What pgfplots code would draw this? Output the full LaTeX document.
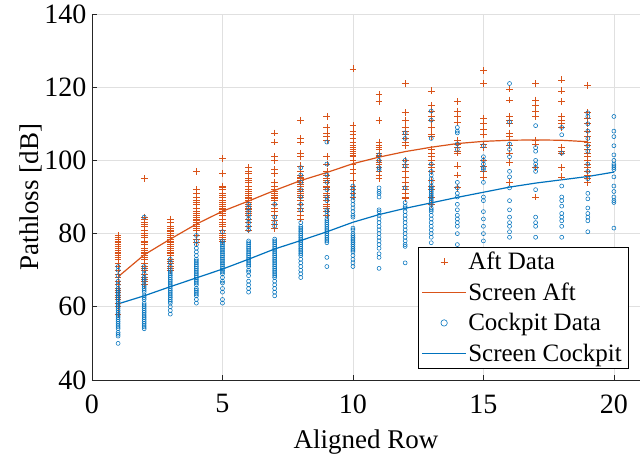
\documentclass[border=0pt]{standalone}
\usepackage{fontspec}
\setmainfont{Liberation Serif}
\usepackage{pgfplots}
\pgfplotsset{compat=1.18}
\definecolor{aftc}{RGB}{217,83,25}
\definecolor{ckc}{RGB}{0,114,189}
\definecolor{axgray}{RGB}{38,38,38}
\begin{document}
\begin{tikzpicture}
\begin{axis}[
  scale only axis, width=548pt, height=366pt,
  xmin=0, xmax=21, ymin=40, ymax=140,
  xtick={0,5,...,20}, ytick={40,60,...,140},
  axis lines=left, axis line style={-, draw=axgray, line width=0.8pt},
  grid=major, grid style={black!12, line width=0.6pt},
  tick align=inside, major tick length=5pt, tick style={draw=axgray, line width=0.8pt},
  /pgf/number format/assume math mode=true,
  tick label style={font=\fontsize{28}{32}\selectfont},
  xticklabel style={yshift=-11pt},
  yticklabel style={xshift=-2pt},
  xlabel={Aligned Row}, ylabel={Pathloss [dB]},
  xlabel style={font=\fontsize{27}{31}\selectfont, at={(axis description cs:0.5,0)}, anchor=center, yshift=-62pt},
  ylabel style={font=\fontsize{27}{31}\selectfont, at={(axis description cs:0,0.5)}, anchor=center, yshift=61pt},
  legend style={at={(0.978,0.033)}, anchor=south east,
    font=\fontsize{25}{29}\selectfont, inner xsep=4pt, inner ysep=3pt, row sep=7.5pt},
  legend cell align=left,
]
% Aft data
\addplot[only marks, mark=+, mark size=3.4pt, draw=aftc, color=aftc, mark options={draw=aftc, line width=0.7pt},
  legend image code/.code={\draw[draw=aftc, line width=0.7pt, only marks, mark=+, mark size=3.4pt, mark options={draw=aftc}] plot coordinates {(0.78cm,0cm)};}] coordinates {
(1,79.5)(1,79)(1,78.5)(1,78)(1,77.5)(1,77)(1,76.5)(1,76)(1,75.5)(1,75)(1,74.5)(1,74)(1,73.5)(1,73)(1,72)(1,71)(1,70)(1,69)(1,68)(1,67)(1,66)(1,65)(1,64.5)(1,64)(1,63)(1,62.5)(1,62)(1,61)(1,60)(1,58)
(2,95)(2,84.5)(2,84)(2,83)(2,82.5)(2,82)(2,81)(2,80)(2,79.5)(2,79)(2,78)(2,77.5)(2,77)(2,76)(2,75.5)(2,75)(2,74.5)(2,74)(2,73.5)(2,73)(2,72)(2,71)(2,70.5)(2,70)(2,69)(2,68)(2,67.5)(2,67)(2,66)
(3,84)(3,83)(3,82)(3,81.5)(3,81)(3,80.5)(3,80)(3,79.5)(3,79)(3,78.5)(3,78)(3,77.5)(3,77)(3,76.5)(3,76)(3,75.5)(3,75)(3,74.5)(3,74)(3,73)(3,72.5)(3,72)(3,71)(3,70.5)(3,70)
(4,97)(4,92)(4,91)(4,90)(4,89)(4,88.5)(4,88)(4,87)(4,86)(4,85.5)(4,85)(4,84.5)(4,84)(4,83.5)(4,83)(4,82.5)(4,82)(4,81.5)(4,81)(4,79.5)(4,78.5)(4,77.5)
(5,100.5)(5,96.5)(5,93)(5,92.5)(5,92)(5,91)(5,90.5)(5,90)(5,89)(5,88.5)(5,88)(5,87.5)(5,87)(5,86.5)(5,86)(5,85.5)(5,85)(5,84)(5,83)(5,82.5)(5,82)(5,81)(5,80)(5,79.5)(5,79)(5,78.5)(5,78)
(6,98)(6,97)(6,96.5)(6,95)(6,94.5)(6,94)(6,93)(6,92)(6,91.5)(6,91)(6,90.5)(6,90)(6,89.5)(6,89)(6,88.5)(6,88)(6,87.5)(6,87)(6,86.5)(6,86)(6,85.5)(6,85)(6,84)(6,83)(6,82)(6,81)
(7,107.5)(7,105)(7,101)(7,100)(7,97.5)(7,96.5)(7,94)(7,93)(7,92)(7,91.5)(7,91)(7,90.5)(7,90)(7,89.5)(7,89)(7,88)(7,87)(7,86)(7,85)(7,83.5)(7,82.5)(7,81.5)
(8,111)(8,106)(8,105)(8,102)(8,101)(8,98.5)(8,97)(8,96)(8,95.5)(8,95)(8,94.5)(8,94)(8,93.5)(8,93)(8,92)(8,91.5)(8,91)(8,90.5)(8,90)(8,89)(8,88)(8,87)(8,86)(8,85)(8,84)
(9,112)(9,109)(9,107.5)(9,106.5)(9,105.5)(9,101)(9,99)(9,97)(9,96)(9,95)(9,94.5)(9,94)(9,93)(9,92.5)(9,92)(9,91)(9,90.5)(9,90)(9,89)(9,88)(9,87.5)(9,87)(9,86)(9,85)
(10,125)(10,109.5)(10,108)(10,107)(10,106)(10,105)(10,104)(10,103.5)(10,103)(10,102.5)(10,102)(10,101.5)(10,101)(10,100)(10,99)(10,97.5)(10,96.5)(10,94.5)(10,93)(10,92)(10,91)(10,90)
(11,118)(11,116)(11,111)(11,105)(11,104)(11,103.5)(11,103)(11,102)(11,101.5)(11,101)(11,100)(11,99.5)(11,99)(11,98)(11,97)(11,96)(11,95)
(12,121)(12,113)(12,111)(12,109)(12,108)(12,107)(12,106)(12,105)(12,104)(12,100)(12,99)(12,98)(12,97)(12,95.5)(12,94)(12,93)(12,92)(12,91)(12,90)(12,89.5)
(13,119)(13,115)(13,113.5)(13,112)(13,111)(13,109)(13,107)(13,106.5)(13,103)(13,102)(13,101)(13,100)(13,99)(13,98)(13,97)(13,94.5)(13,93)(13,92)(13,90)(13,88)
(14,116)(14,113.5)(14,112)(14,110.5)(14,105.5)(14,104.5)(14,103.5)(14,102.5)(14,102)(14,98.5)(14,96)(14,92.5)
(15,124.5)(15,121)(15,111.5)(15,110)(15,108.5)(15,107)(15,104.5)(15,103.5)(15,100)(15,98.5)(15,97)(15,95.5)
(16,119.5)(16,116.5)(16,112)(16,111)(16,110)(16,107.5)(16,106.5)(16,104)(16,102)(16,99.5)(16,94)
(17,121)(17,116.5)(17,115)(17,113.5)(17,112)(17,105.5)(17,104.5)(17,98)(17,90)
(18,122)(18,119)(18,116)(18,112)(18,111)(18,110)(18,109)(18,103.5)(18,102.5)(18,102)(18,98)(18,95.5)
(19,120.5)(19,113)(19,111.5)(19,110)(19,108)(19,106.5)(19,105)(19,104)(19,103)(19,102)(19,101)(19,100)(19,99)(19,98)(19,97)(19,96)(19,95)(19,94)
};
\addlegendentry{Aft Data}
% Aft fit
\addplot[draw=aftc, color=aftc, line width=1.2pt,
  legend image code/.code={\fill[fill=aftc, draw=none] (0cm,-0.6pt) rectangle (1.56cm,0.6pt);}] coordinates {
(1,68.2)(2,74.2)(3,78.5)(4,82.6)(5,86.1)(6,88.9)(7,91.8)(8,94.5)(9,96.7)(10,99.1)
(11,100.9)(12,102.4)(13,103.6)(14,104.6)(15,105.2)(16,105.5)(17,105.6)(18,105.5)(19,105.1)
};
\addlegendentry{Screen Aft}
% Cockpit data
\addplot[only marks, mark=o, mark size=2pt, draw=ckc, color=ckc, mark options={draw=ckc, line width=0.55pt},
  legend image code/.code={\draw[draw=ckc, line width=0.6pt, only marks, mark=o, mark size=3.2pt, mark options={draw=ckc}] plot coordinates {(0.78cm,0cm)};}] coordinates {
(1,71)(1,70)(1,68.5)(1,67)(1,66)(1,65)(1,64.5)(1,64)(1,63.5)(1,63)(1,62.5)(1,62)(1,61.5)(1,61)(1,60.5)(1,60)(1,59.5)(1,59)(1,58.5)(1,58)(1,57.5)(1,57)(1,56.5)(1,56)(1,55.5)(1,55)(1,54.5)(1,54)(1,53)(1,52.5)(1,52)(1,50)
(2,84.5)(2,71)(2,70)(2,69)(2,68)(2,67.5)(2,67)(2,66)(2,65.5)(2,65)(2,64.5)(2,64)(2,63)(2,62.5)(2,62)(2,61)(2,60.5)(2,60)(2,59.5)(2,59)(2,58.5)(2,58)(2,57.5)(2,57)(2,56.5)(2,56)(2,55.5)(2,55)(2,54.5)(2,54)
(3,73)(3,72)(3,71)(3,70)(3,69.5)(3,69)(3,68.5)(3,68)(3,67.5)(3,67)(3,66.5)(3,66)(3,65.5)(3,65)(3,64.5)(3,64)(3,63.5)(3,63)(3,62.5)(3,62)(3,61.5)(3,61)(3,60)(3,59)(3,58)
(4,79.5)(4,78)(4,77)(4,76)(4,75)(4,74)(4,73)(4,72.5)(4,72)(4,71.5)(4,71)(4,70.5)(4,70)(4,69.5)(4,69)(4,68.5)(4,68)(4,67.5)(4,67)(4,66.5)(4,66)(4,65)(4,64.5)(4,64)(4,63.5)(4,63)(4,62)(4,61)
(5,80.5)(5,78)(5,77.5)(5,77)(5,76.5)(5,76)(5,75.5)(5,75)(5,74.5)(5,74)(5,73.5)(5,73)(5,72.5)(5,72)(5,71.5)(5,71)(5,70.5)(5,70)(5,69.5)(5,69)(5,68)(5,67)(5,66.5)(5,65)(5,64)(5,62)(5,61)
(6,88)(6,87)(6,86)(6,85)(6,84)(6,83)(6,82)(6,81)(6,78)(6,77.5)(6,77)(6,76.5)(6,76)(6,75.5)(6,75)(6,74.5)(6,74)(6,73.5)(6,73)(6,72.5)(6,72)(6,71.5)(6,71)(6,70)(6,69.5)(6,68.5)(6,67)(6,66)(6,65)(6,64)
(7,88)(7,84.5)(7,83)(7,82)(7,78.5)(7,78)(7,77.5)(7,77)(7,76.5)(7,76)(7,75.5)(7,75)(7,74.5)(7,74)(7,73.5)(7,73)(7,72.5)(7,72)(7,71.5)(7,71)(7,70.5)(7,70)(7,69.5)(7,69)(7,68.5)(7,68)(7,67)(7,66)(7,65)(7,64)(7,63)
(8,98)(8,96)(8,94)(8,92)(8,90)(8,88)(8,86.5)(8,83)(8,82)(8,81.5)(8,81)(8,80.5)(8,80)(8,79.5)(8,79)(8,78.5)(8,78)(8,77.5)(8,77)(8,76.5)(8,76)(8,75.5)(8,75)(8,74.5)(8,74)(8,73)(8,72)(8,71)(8,70)(8,69)(8,68)
(9,105)(9,99)(9,96)(9,94)(9,92)(9,90)(9,89)(9,86.5)(9,86)(9,85)(9,84)(9,83.5)(9,83)(9,82.5)(9,82)(9,81.5)(9,81)(9,80.5)(9,80)(9,79.5)(9,79)(9,78.5)(9,78)(9,77.5)(9,73.5)(9,71)
(10,93)(10,92)(10,91)(10,90)(10,89)(10,88)(10,87)(10,86)(10,85)(10,84.5)(10,81.5)(10,81)(10,80)(10,79.5)(10,79)(10,78.5)(10,78)(10,77.5)(10,77)(10,76.5)(10,76)(10,75.5)(10,75)(10,74)(10,73)(10,72)(10,71)
(11,101.5)(11,100)(11,98)(11,97.5)(11,92.5)(11,91.5)(11,91)(11,90)(11,86.5)(11,86)(11,85)(11,84)(11,83)(11,82)(11,81)(11,80)(11,79)(11,78)(11,77)(11,76)(11,74.5)(11,73.5)(11,70.5)
(12,107.5)(12,106)(12,100)(12,98.5)(12,92.5)(12,88.5)(12,87.5)(12,87)(12,86)(12,85)(12,84)(12,83)(12,82)(12,81)(12,80)(12,79)(12,78)(12,77)(12,76.5)(12,72)
(13,113.5)(13,111)(13,106)(13,99)(13,97)(13,96)(13,95)(13,94)(13,93)(13,92.5)(13,92)(13,91.5)(13,91)(13,90.5)(13,90)(13,89.5)(13,89)(13,88.5)(13,88)(13,87)(13,86.5)(13,86)(13,85)(13,84)(13,83)(13,82)(13,81)(13,80)(13,79)(13,77.5)
(14,109)(14,108)(14,107.5)(14,104.5)(14,103)(14,94)(14,92.5)(14,91)(14,90)(14,88)(14,86.5)(14,85)(14,84)(14,83)(14,82)(14,80)(14,77)
(15,104)(15,101)(15,100)(15,99)(15,98)(15,97.5)(15,94)(15,90)(15,89)(15,86)(15,84)(15,82)(15,80)(15,78)
(16,121)(16,110.5)(16,104.5)(16,103)(16,101)(16,97)(16,95.5)(16,92.5)(16,89)(16,86.5)(16,84.5)(16,83)(16,82)(16,80.5)(16,79)
(17,109.5)(17,103.5)(17,102.5)(17,100)(17,99)(17,98)(17,97)(17,92)(17,84.5)(17,83)(17,82)(17,79)
(18,109)(18,107)(18,102)(18,93)(18,90)(18,89)(18,87.5)(18,85.5)(18,84.5)(18,83.5)(18,82)(18,79)
(19,113)(19,112)(19,110)(19,108)(19,106)(19,104)(19,102.5)(19,99)(19,97)(19,95)(19,91)(19,89.5)(19,87)(19,85.5)(19,84.5)(19,83.5)(19,80.5)
(20,112)(20,108)(20,106.5)(20,104)(20,101.5)(20,100)(20,99)(20,98.5)(20,98)(20,97.5)(20,95.5)(20,93)(20,91.5)(20,90)(20,89)(20,88.5)(20,81.5)
};
\addlegendentry{Cockpit Data}
% Cockpit fit
\addplot[draw=ckc, color=ckc, line width=1.2pt,
  legend image code/.code={\fill[fill=ckc, draw=none] (0cm,-0.6pt) rectangle (1.56cm,0.6pt);}] coordinates {
(1,60.8)(2,63)(3,65.5)(4,67.9)(5,70.3)(6,73)(7,75.8)(8,78.1)(9,80.5)(10,83.1)
(11,85.2)(12,86.9)(13,88.4)(14,89.9)(15,91.3)(16,92.7)(17,93.8)(18,94.7)(19,95.6)(20,96.8)
};
\addlegendentry{Screen Cockpit}
\end{axis}
\path ([shift={(-92pt,-79pt)}]current axis.south west) rectangle ([shift={(1pt,14pt)}]current axis.north east);
\end{tikzpicture}
\end{document}
